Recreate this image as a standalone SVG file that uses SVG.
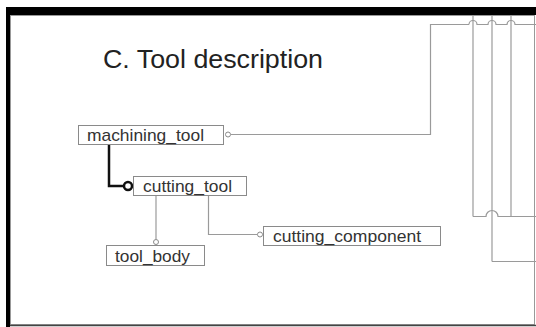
<svg xmlns="http://www.w3.org/2000/svg" width="536" height="327" viewBox="0 0 536 327">
<style>
.box{fill:#fff;stroke:#8a8a8a;stroke-width:1}
.lbl{font-family:"Liberation Sans",Arial,sans-serif;font-size:17px;fill:#333}
.ln{fill:none;stroke:#9a9a9a;stroke-width:1.2}
.ring{fill:#fff;stroke:#8a8a8a;stroke-width:1}
</style>
<rect x="0" y="0" width="536" height="327" fill="#fff"/>
<g id="frame">
<rect x="10.5" y="15.5" width="524" height="309" fill="none" stroke="#999" stroke-width="1"/>
<rect x="6" y="7" width="530" height="8" fill="#000"/>
<rect x="6" y="7" width="4" height="320" fill="#000"/>
<line x1="10" y1="325.5" x2="536" y2="325.5" stroke="#444" stroke-width="1.5"/>
</g>
<text x="103" y="68" font-family="'Liberation Sans',Arial,sans-serif" font-size="26" fill="#222" textLength="220" lengthAdjust="spacingAndGlyphs">C. Tool description</text>
<g id="connectors">
<polyline class="ln" points="231,134.5 430.5,134.5 430.5,24.5 469,24.5"/>
<path class="ln" d="M469,24.5 a4,4 0 0 1 8,0 L488,24.5 a4,4 0 0 1 8,0 L507,24.5 a4,4 0 0 1 8,0 L536,24.5"/>
<line class="ln" x1="473" y1="15" x2="473" y2="216.5"/>
<line class="ln" x1="492" y1="15" x2="492" y2="261.5"/>
<line class="ln" x1="511" y1="15" x2="511" y2="216.5"/>
<path class="ln" d="M473,216.5 L486,216.5 a6,6 0 0 1 12,0 L536,216.5"/>
<line class="ln" x1="492" y1="261.5" x2="536" y2="261.5"/>
<polyline fill="none" stroke="#111" stroke-width="2.5" points="109,144 109,186 124,186"/>
<circle cx="128" cy="186" r="4" fill="#fff" stroke="#111" stroke-width="2.5"/>
<line class="ln" x1="156" y1="195" x2="156" y2="239.5"/>
<circle class="ring" cx="156" cy="242" r="2.5"/>
<polyline class="ln" points="208.5,195 208.5,234.5 257.5,234.5"/>
<circle class="ring" cx="260" cy="234.5" r="2.5"/>
<circle class="ring" cx="228" cy="134.5" r="2.5"/>
</g>
<g id="machining_tool">
<rect class="box" x="78.5" y="125.5" width="145" height="19"/>
<text class="lbl" x="87" y="141" textLength="117" lengthAdjust="spacingAndGlyphs">machining_tool</text>
</g>
<g id="cutting_tool">
<rect class="box" x="133.5" y="176.5" width="113" height="19"/>
<text class="lbl" x="143" y="192" textLength="89" lengthAdjust="spacingAndGlyphs">cutting_tool</text>
</g>
<g id="tool_body">
<rect class="box" x="106.5" y="245.5" width="98" height="20"/>
<text class="lbl" x="115" y="261.5" textLength="75" lengthAdjust="spacingAndGlyphs">tool_body</text>
</g>
<g id="cutting_component">
<rect class="box" x="263.5" y="226.5" width="177" height="19"/>
<text class="lbl" x="273" y="241.5" textLength="148" lengthAdjust="spacingAndGlyphs">cutting_component</text>
</g>
</svg>
